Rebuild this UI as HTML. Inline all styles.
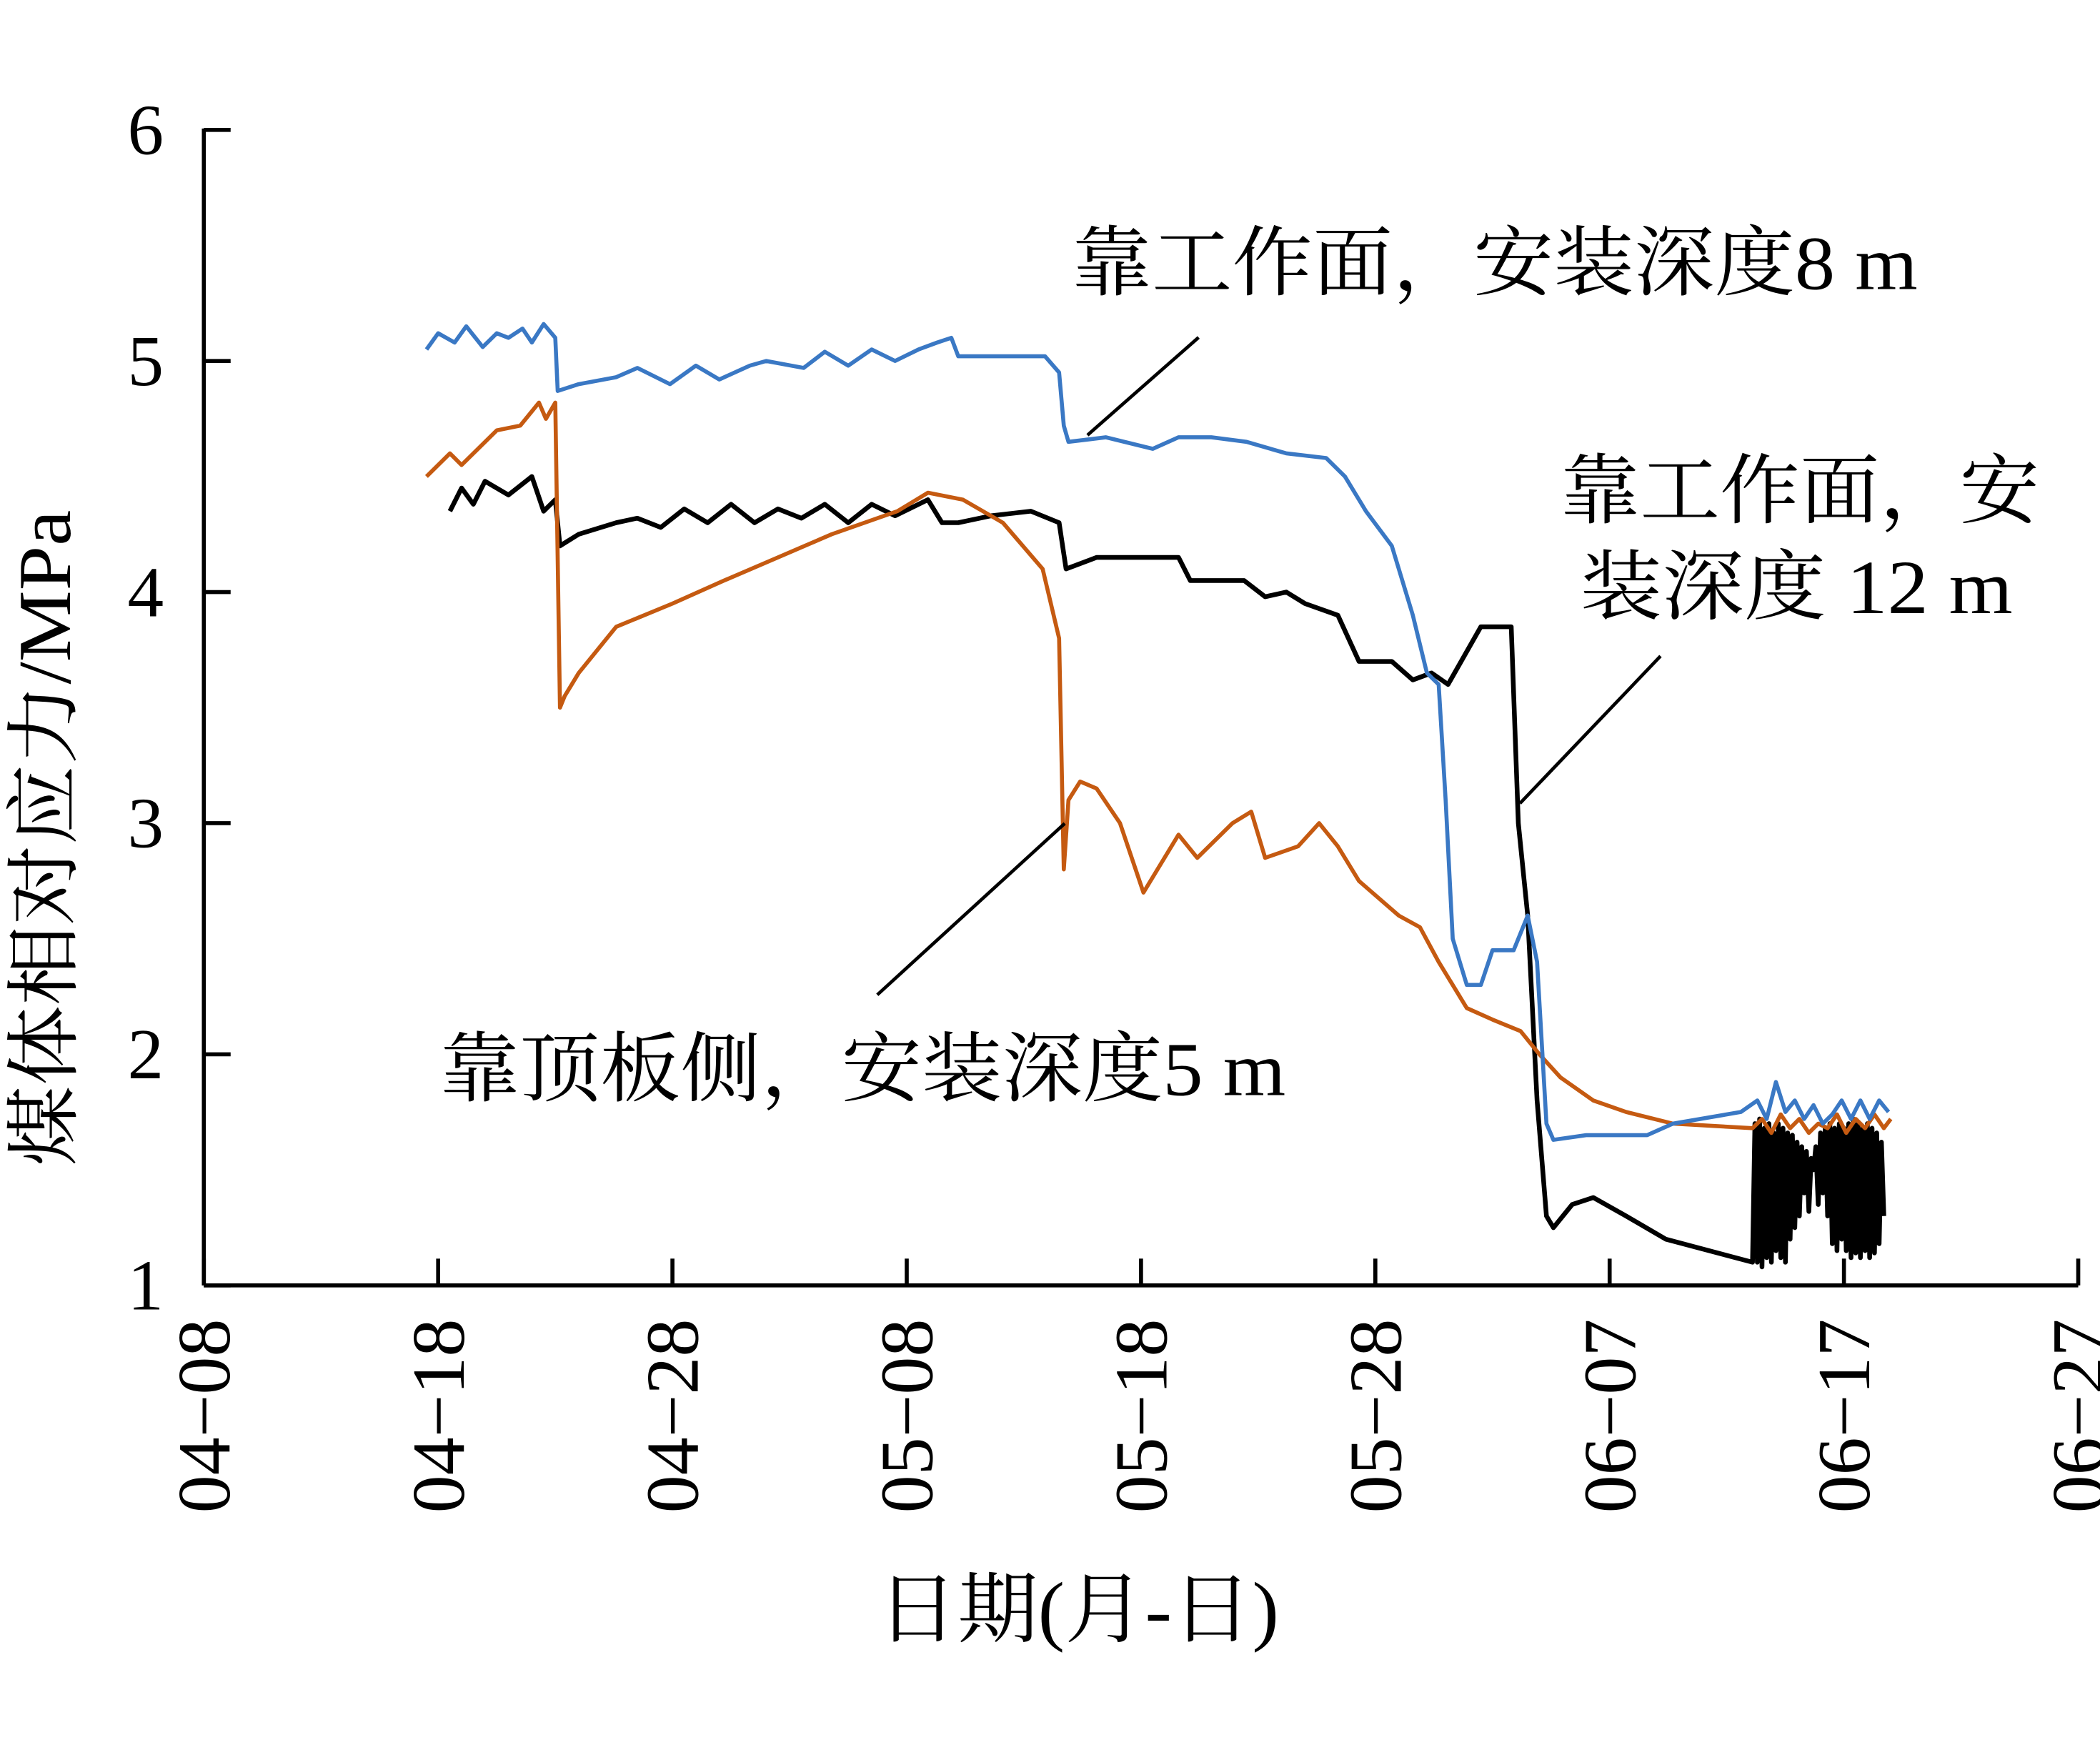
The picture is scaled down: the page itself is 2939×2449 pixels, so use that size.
<!DOCTYPE html>
<html><head><meta charset="utf-8">
<style>
html,body{margin:0;padding:0;background:#fff;}
svg{display:block;}
text{font-family:"Liberation Serif","Noto Serif CJK SC",serif;fill:#000;}
</style></head>
<body>
<svg id="chart" width="2939" height="2449" viewBox="0 0 1568 1307" xmlns="http://www.w3.org/2000/svg">
<g id="axes"></g>
<g id="series"></g>
<g>
<text x="800" y="216" font-size="57" textLength="632" lengthAdjust="spacingAndGlyphs">靠工作面，安装深度8 m</text>
<line x1="895" y1="252" x2="812" y2="325" stroke="#000" stroke-width="2.5"/>
<text x="1165" y="386" font-size="57" textLength="358" lengthAdjust="spacingAndGlyphs">靠工作面，安</text>
<text x="1180" y="458" font-size="57" textLength="323" lengthAdjust="spacingAndGlyphs">装深度 12 m</text>
<line x1="1240" y1="490" x2="1135" y2="600" stroke="#000" stroke-width="2.5"/>
<text x="328" y="818" font-size="57" textLength="632" lengthAdjust="spacingAndGlyphs">靠顶板侧，安装深度5 m</text>
<line x1="655" y1="743" x2="795" y2="615" stroke="#000" stroke-width="2.5"/>
<text transform="translate(52,626) rotate(-90)" text-anchor="middle" font-size="56" textLength="490" lengthAdjust="spacingAndGlyphs">煤体相对应力/MPa</text>
<text x="805" y="1222" text-anchor="middle" font-size="58" textLength="300" lengthAdjust="spacingAndGlyphs">日期(月-日)</text>
</g>
</svg>
<script>
const xTickLabels=["04-08","04-18","04-28","05-08","05-18","05-28","06-07","06-17","06-27"];
const yTickValues=[1,2,3,4,5,6];
const blueDays=[9.5,10.0,10.7,11.2,11.9,12.5,13.0,13.6,14.0,14.5,15.0,15.1,16.0,17.6,18.5,19.9,21.0,22.0,23.3,24.0,25.6,26.5,27.5,28.5,29.5,30.5,31.3,31.9,32.2,35.9,36.5,36.7,36.9,38.5,40.5,41.6,43,44.5,46.2,47.9,48.7,49.6,50.7,51.6,52.2,52.7,53.0,53.3,53.9,54.5,55.0,55.9,56.5,56.9,57.3,57.6,59,61.6,62.7,65.6,66.3,66.7,67.1,67.5,67.9,68.3,68.7,69.1,69.5,69.9,70.3,70.7,71.1,71.5,71.9];
const blueVals=[5.05,5.12,5.08,5.15,5.06,5.12,5.1,5.14,5.08,5.16,5.1,4.87,4.9,4.93,4.97,4.9,4.98,4.92,4.98,5.0,4.97,5.04,4.98,5.05,5.0,5.05,5.08,5.1,5.02,5.02,4.95,4.72,4.65,4.67,4.62,4.67,4.67,4.65,4.6,4.58,4.5,4.35,4.2,3.9,3.65,3.6,3.1,2.5,2.3,2.3,2.45,2.45,2.6,2.4,1.7,1.63,1.65,1.65,1.7,1.75,1.8,1.72,1.88,1.75,1.8,1.72,1.78,1.7,1.74,1.8,1.72,1.8,1.72,1.8,1.75];
const orangeDays=[9.5,10.5,11.0,12.5,13.5,14.3,14.6,15.0,15.2,15.4,16.0,17.6,20,22.2,24.5,26.8,29.6,30.9,32.4,34.1,35.8,36.5,36.7,36.9,37.4,38.1,39.1,40.1,41.6,42.4,43.9,44.7,45.3,46.7,47.6,48.4,49.3,51.0,51.9,52.7,53.9,55.0,56.2,57.0,57.9,59.3,60.7,62.7,66.1,66.5,66.9,67.3,67.7,68.1,68.5,68.9,69.3,69.7,70.1,70.5,70.9,71.3,71.7,72.0];
const orangeVals=[4.5,4.6,4.55,4.7,4.72,4.82,4.75,4.82,3.5,3.55,3.65,3.85,3.95,4.05,4.15,4.25,4.35,4.43,4.4,4.3,4.1,3.8,2.8,3.1,3.18,3.15,3.0,2.7,2.95,2.85,3.0,3.05,2.85,2.9,3.0,2.9,2.75,2.6,2.55,2.4,2.2,2.15,2.1,2.0,1.9,1.8,1.75,1.7,1.68,1.72,1.66,1.74,1.68,1.72,1.66,1.7,1.68,1.74,1.66,1.72,1.68,1.74,1.68,1.72];
const blackDays=[10.5,11.0,11.5,12.0,13.0,14.0,14.5,15.0,15.2,16.0,17.6,18.5,19.5,20.5,21.5,22.5,23.5,24.5,25.5,26.5,27.5,28.5,29.5,30.9,31.5,32.2,33.6,35.3,36.5,36.8,38.1,41.6,42.1,44.4,45.3,46.2,47.0,48.4,49.3,50.7,51.6,52.4,53.1,54.5,55.8,56.1,56.5,56.9,57.3,57.6,58.4,59.3,60.7,62.4,66.1,
66.2,66.3,66.4,66.5,66.6,66.7,66.8,66.9,67.0,67.1,67.2,67.3,67.4,67.5,67.6,67.7,67.8,67.9,68.0,68.1,68.2,68.3,68.4,68.5,68.6,68.7,68.8,68.9,69.0,69.1,69.2,69.3,69.4,69.5,69.6,69.7,69.8,69.9,70.0,70.1,70.2,70.3,70.4,70.5,70.6,70.7,70.8,70.9,71.0,71.1,71.2,71.3,71.4,71.5,71.6,71.7,71.8,71.9];
const blackVals=[4.35,4.45,4.38,4.48,4.42,4.5,4.35,4.4,4.2,4.25,4.3,4.32,4.28,4.36,4.3,4.38,4.3,4.36,4.32,4.38,4.3,4.38,4.33,4.4,4.3,4.3,4.33,4.35,4.3,4.1,4.15,4.15,4.05,4.05,3.98,4.0,3.95,3.9,3.7,3.7,3.62,3.65,3.6,3.85,3.85,3.0,2.6,1.8,1.3,1.25,1.35,1.38,1.3,1.2,1.1,
1.7,1.1,1.72,1.08,1.68,1.12,1.7,1.1,1.66,1.15,1.7,1.12,1.68,1.1,1.66,1.2,1.65,1.25,1.62,1.3,1.6,1.4,1.58,1.32,1.55,1.5,1.6,1.35,1.66,1.4,1.68,1.3,1.7,1.18,1.68,1.15,1.7,1.2,1.68,1.15,1.7,1.12,1.72,1.14,1.7,1.12,1.68,1.15,1.7,1.12,1.68,1.14,1.66,1.18,1.62,1.3];
const NS="http://www.w3.org/2000/svg";
const X0=152,X1=1552,Y0=960,Y1=97;
function xs(d){return X0+(X1-X0)*d/80;}
function ys(v){return Y0-(Y0-Y1)*(v-1)/5;}
const axes=document.getElementById('axes');
function mk(tag,attrs,parent){const e=document.createElementNS(NS,tag);for(const k in attrs)e.setAttribute(k,attrs[k]);parent.appendChild(e);return e;}
let l=mk('line',{x1:X0,y1:Y0,x2:X1,y2:Y0,stroke:'#000','stroke-width':3},axes);


l=mk('line',{x1:X0,y1:Y0,x2:X0,y2:Y1-1,stroke:'#000','stroke-width':3},axes);


yTickValues.forEach(v=>{
  const t=mk('line',{x1:X0,y1:ys(v),x2:X0+20,y2:ys(v),stroke:'#000','stroke-width':3},axes);
  
  
  const tx=mk('text',{x:122,y:ys(v)+18,'text-anchor':'end','font-size':54},axes);
  tx.textContent=v;
  
  
});
xTickLabels.forEach((s,i)=>{
  const x=xs(i*10);
  const t=mk('line',{x1:x,y1:Y0,x2:x,y2:Y0-20,stroke:'#000','stroke-width':3},axes);
  
  
  const tx=mk('text',{transform:`translate(${x+19},985) rotate(-90)`,'text-anchor':'end','font-size':56,textLength:145,lengthAdjust:'spacingAndGlyphs'},axes);
  tx.textContent=s.replace('-','\u2212');
  
  
});
const ser=document.getElementById('series');
function draw(days,vals,color,name,w){
  const pts=days.map((d,i)=>xs(d).toFixed(1)+','+ys(vals[i]).toFixed(1)).join(' ');
  const p=mk('polyline',{points:pts,fill:'none',stroke:color,'stroke-width':w,'stroke-linejoin':'round'},ser);
  
  
}
draw(blackDays,blackVals,'#000','line-face-12m',3.5);
draw(orangeDays,orangeVals,'#c55a11','line-roof-5m',3);
draw(blueDays,blueVals,'#3a78c4','line-face-8m',3);
</script>
</body></html>
